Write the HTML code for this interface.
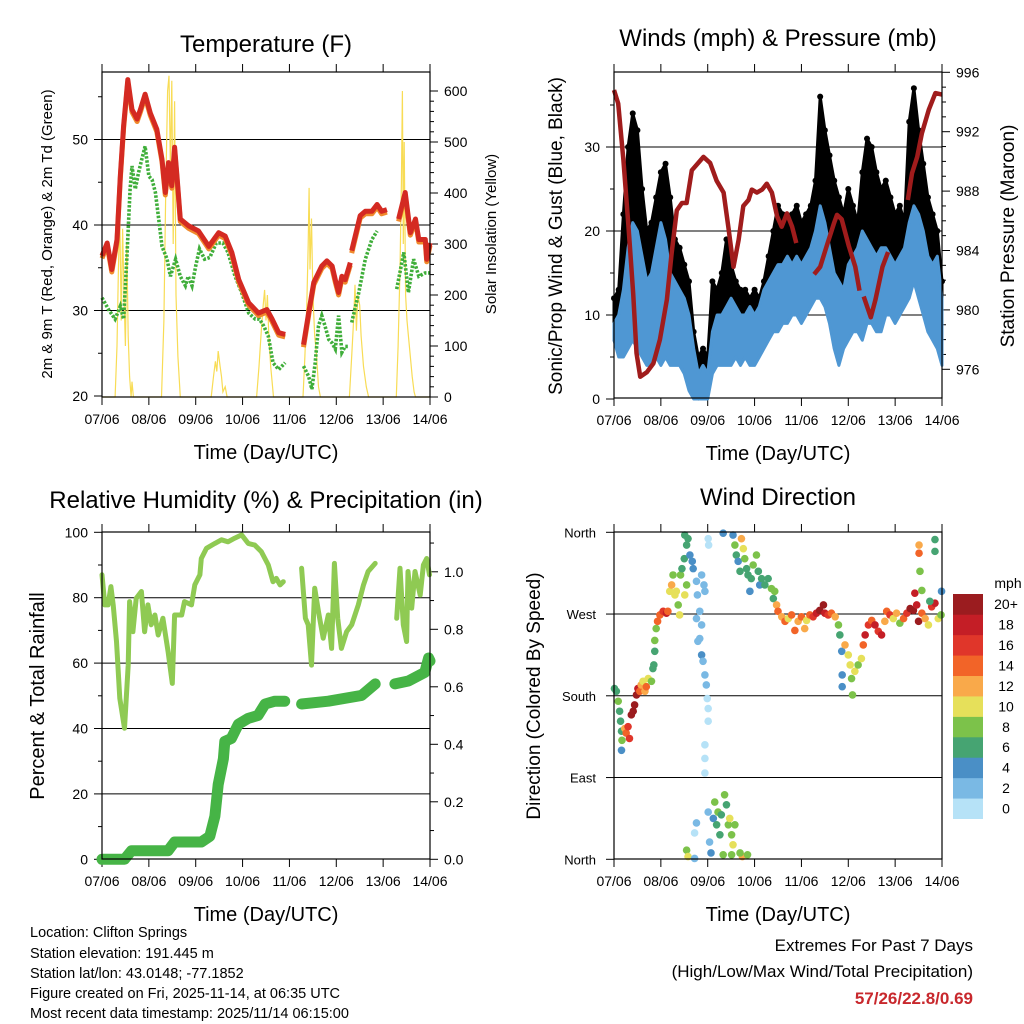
<!DOCTYPE html>
<html><head><meta charset="utf-8"><title>Station Meteogram</title>
<style>
html,body{margin:0;padding:0;background:#fff;}
svg{display:block;font-family:"Liberation Sans",Arial,sans-serif;}
</style></head>
<body>
<svg id="fig" width="1024" height="1024" viewBox="0 0 1024 1024" xmlns="http://www.w3.org/2000/svg"></svg>
<script>
// ---------- DATA ----------
const dayTicks = [7,8,9,10,11,12,13,14];
const dayTickLabels = ["07/06","08/06","09/06","10/06","11/06","12/06","13/06","14/06"];

// Temperature (F), 2m (red); null = gap
const tDays = [7.00,7.11,7.21,7.32,7.39,7.46,7.55,7.64,7.75,7.82,7.92,8.03,8.17,8.28,8.35,8.42,8.49,8.55,8.60,8.67,8.85,9.06,9.28,9.49,9.63,9.77,9.92,10.13,10.34,10.52,10.63,10.77,10.91,11.10,11.30,11.41,11.52,11.69,11.80,11.91,11.98,12.05,12.12,12.19,12.30,12.32,12.33,12.51,12.62,12.76,12.87,12.97,13.08,13.20,13.33,13.47,13.58,13.69,13.76,13.90,13.93,14.00];
const tVals = [36.4,37.9,34.8,38.3,45.7,51.6,57.0,53.5,52.4,53.5,55.3,53.1,51.2,47.7,43.8,47.3,44.6,49.1,45.7,40.7,39.9,39.3,37.5,39.1,38.7,36.8,33.6,30.9,29.7,30.1,29.0,27.4,27.2,null,26.0,29.7,33.3,35.2,35.8,35.2,33.6,32.1,34.0,33.6,35.6,null,37.0,41.1,41.6,41.6,42.4,41.6,41.8,null,40.7,43.8,39.1,40.7,38.3,38.3,36.0,37.9];
// Dew point (green)
const tdDays = [7.00,7.14,7.28,7.39,7.46,7.53,7.60,7.64,7.71,7.78,7.85,7.92,8.00,8.07,8.14,8.21,8.28,8.39,8.46,8.57,8.67,8.78,8.84,8.92,9.00,9.08,9.19,9.30,9.44,9.58,9.69,9.84,9.98,10.13,10.27,10.36,10.45,10.55,10.65,10.77,10.91,11.10,11.30,11.41,11.48,11.55,11.62,11.69,11.76,11.84,11.91,11.98,12.05,12.12,12.19,12.26,12.28,12.33,12.48,12.62,12.76,12.87,13.00,13.29,13.44,13.54,13.65,13.76,13.90,14.00];
const tdVals = [31.5,30.1,29.0,30.5,29.0,36.0,44.2,46.9,44.2,46.1,47.7,49.2,45.7,45.3,43.8,40.7,37.5,36.0,34.0,36.0,34.0,32.9,34.0,32.9,35.2,37.2,36.0,36.2,37.9,37.9,36.8,34.0,32.1,29.7,29.0,29.0,28.2,27.0,23.9,23.1,23.9,null,23.5,22.3,20.8,23.9,28.2,29.4,28.2,26.6,26.2,25.5,29.4,25.1,25.8,25.8,null,28.6,32.1,36.0,38.3,39.3,null,32.5,36.8,32.1,36.0,34.0,34.4,34.4];
// Solar insolation (yellow)
const solarDays = [7.00,7.28,7.32,7.35,7.38,7.41,7.44,7.47,7.50,7.53,7.56,7.59,7.62,7.64,7.67,8.27,8.32,8.36,8.40,8.43,8.46,8.49,8.52,8.55,8.58,8.62,8.67,9.33,9.38,9.42,9.45,9.48,9.52,9.55,9.58,9.63,9.67,10.30,10.35,10.40,10.44,10.47,10.50,10.53,10.56,10.60,10.66,11.29,11.33,11.37,11.40,11.42,11.44,11.47,11.50,11.54,11.58,11.62,11.66,12.28,12.33,12.37,12.40,12.43,12.46,12.50,12.53,12.58,12.64,12.69,13.28,13.32,13.36,13.39,13.41,13.43,13.45,13.48,13.51,13.54,13.58,13.62,13.66,13.69,14.00];
const solarVals = [0,0,100,250,360,150,330,200,100,300,120,40,0,30,0,0,150,400,600,630,450,620,300,580,200,80,0,0,40,70,50,90,60,40,10,20,0,0,60,130,180,210,150,200,120,60,0,0,80,180,300,410,250,350,200,120,80,20,0,0,80,150,220,130,200,180,120,60,20,0,0,100,250,420,600,300,500,200,150,120,80,40,10,0,0];

// Winds (mph) – sampled every 0.1 day
const windDays = [7.0,7.1,7.2,7.3,7.4,7.5,7.6,7.7,7.8,7.9,8.0,8.1,8.2,8.3,8.4,8.5,8.6,8.7,8.8,8.9,9.0,9.1,9.2,9.3,9.4,9.5,9.6,9.7,9.8,9.9,10.0,10.1,10.2,10.3,10.4,10.5,10.6,10.7,10.8,10.9,11.0,11.1,11.2,11.3,11.4,11.5,11.6,11.7,11.8,11.9,12.0,12.1,12.2,12.3,12.4,12.5,12.6,12.7,12.8,12.9,13.0,13.1,13.2,13.3,13.4,13.5,13.6,13.7,13.8,13.9,14.0];
const gustHi = [12,13,22,30,34,32,25,20,21,24,27,28,24,19,18,16,14,8,5,6,5,14,13,15,19,16,14,13,13,12,13,12,14,17,20,23,22,21,22,23,21,22,23,26,36,32,29,26,24,22,25,23,21,27,31,30,27,25,26,24,22,23,21,33,37,32,28,24,22,20,14];
const gustLo = [7,7,8,10,11,12,12,11,10,10,10,9,8,7,6,5,3,1,0,1,2,6,7,8,9,9,8,7,7,7,7,8,9,10,11,12,13,14,14,13,12,13,14,15,16,16,15,14,12,10,10,11,12,12,14,15,15,14,13,12,12,12,13,15,17,16,15,13,12,10,8];
const sonicHi = [9,10,13,18,21,20,17,14,15,18,21,19,15,14,13,12,10,6,3,4,3,8,10,10,11,12,11,10,10,11,10,11,13,14,15,16,16,17,16,17,16,17,18,20,23,21,18,15,14,13,16,17,18,20,19,18,17,18,18,17,16,17,18,21,23,22,20,17,16,17,12];
const sonicLo = [7,5,5,6,7,6,5,4,4,5,4,5,4,4,4,3,1,0,0,0,0,3,4,4,4,4,5,4,5,4,4,5,6,7,8,8,9,9,10,10,9,10,11,12,12,11,9,6,4,6,7,8,8,7,9,9,8,8,10,10,9,10,11,12,14,12,10,8,7,6,4];
// Station pressure (mb)
const presDays = [7.00,7.09,7.20,7.31,7.41,7.48,7.56,7.70,7.84,7.98,8.13,8.23,8.34,8.45,8.55,8.66,8.80,8.91,9.05,9.19,9.34,9.44,9.55,9.66,9.76,9.87,9.94,10.05,10.16,10.26,10.37,10.48,10.58,10.69,10.80,10.89,11.00,11.27,11.40,11.54,11.69,11.76,11.86,12.01,12.15,12.24,12.28,12.33,12.48,12.58,12.73,12.85,13.00,13.27,13.36,13.47,13.57,13.72,13.86,14.00];
const presVals = [994.8,993.9,990.1,985.6,981.1,977.1,975.5,975.8,976.4,978.0,980.7,983.8,986.7,987.2,987.2,989.4,989.9,990.3,989.9,988.7,987.9,985.6,982.9,984.7,987.0,987.4,988.1,987.9,988.1,988.5,987.9,986.3,985.6,986.5,985.6,984.5,null,982.4,982.9,984.3,985.8,986.4,986.1,984.3,982.9,981.3,null,980.9,979.5,980.7,982.9,983.9,null,987.4,989.2,990.3,991.9,993.5,994.6,994.5];

// Relative humidity (%)
const rhDays = [7.00,7.06,7.13,7.19,7.24,7.31,7.38,7.48,7.56,7.59,7.66,7.73,7.84,7.91,7.98,8.05,8.13,8.20,8.30,8.41,8.50,8.55,8.70,8.76,8.91,8.98,9.09,9.12,9.23,9.41,9.55,9.69,9.83,9.98,10.12,10.26,10.40,10.55,10.65,10.72,10.80,10.87,11.00,11.26,11.34,11.40,11.47,11.54,11.62,11.72,11.83,11.90,11.96,12.03,12.11,12.22,12.33,12.47,12.58,12.68,12.83,13.00,13.29,13.36,13.43,13.50,13.53,13.61,13.68,13.79,13.86,13.93,13.99];
const rhVals = [87.0,77.8,77.8,83.4,77.8,66.6,49.2,40.1,59.4,78.8,69.6,79.8,81.9,69.6,77.8,71.7,74.7,68.6,73.7,63.5,53.8,74.7,74.7,78.8,77.8,83.9,87.0,92.0,95.1,96.6,97.7,97.1,98.2,99.2,96.6,96.1,94.1,90.0,84.9,85.9,83.9,84.9,null,89.0,73.7,71.7,59.4,82.9,75.7,67.6,74.7,64.5,90.5,73.7,64.5,69.6,71.7,77.8,83.9,88.0,90.5,null,73.7,89.0,71.7,66.6,88.0,76.8,88.0,80.8,90.0,92.0,87.0];
// Total precipitation (in)
const prDays = [7.00,7.48,7.63,8.41,8.55,9.12,9.30,9.41,9.48,9.59,9.62,9.76,9.91,10.12,10.33,10.48,10.69,10.90,11.05,11.26,11.83,12.54,12.83,13.05,13.25,13.54,13.89,13.97,14.00];
const prVals = [0.00,0.00,0.03,0.03,0.06,0.06,0.08,0.15,0.26,0.35,0.41,0.42,0.47,0.49,0.50,0.54,0.55,0.55,null,0.54,0.55,0.57,0.61,null,0.61,0.62,0.65,0.70,0.69];

// Wind direction (deg) coloured by speed (mph)
const dirDays = [7.01,7.05,7.09,7.12,7.14,7.16,7.17,7.16,7.23,7.26,7.30,7.33,7.37,7.41,7.44,7.48,7.51,7.55,7.58,7.62,7.66,7.69,7.73,7.80,7.83,7.85,7.87,7.87,7.90,7.93,7.98,8.05,8.12,8.15,8.19,8.23,8.26,8.30,8.33,8.37,8.40,8.42,8.45,8.50,8.55,8.51,8.58,8.62,8.67,8.69,8.55,8.51,
8.76,8.78,8.83,8.87,8.83,8.87,8.90,8.94,8.92,9.01,9.02,8.94,8.97,8.99,9.01,9.01,8.94,8.94,8.94,8.76,8.79,8.87,
8.55,8.58,8.72,8.76,8.72,9.01,9.04,9.07,9.12,9.15,9.19,9.22,9.26,9.29,9.33,9.36,9.40,9.44,9.47,9.51,9.54,9.58,9.51,9.74,9.85,9.69,
9.33,9.54,9.58,9.61,9.65,9.69,9.72,9.76,9.79,9.83,9.86,9.90,9.93,9.97,10.04,10.08,10.11,10.15,10.22,10.29,10.36,10.40,10.43,
10.47,10.50,10.58,10.65,10.72,10.79,10.86,10.93,11.00,11.07,11.11,11.18,11.25,11.32,11.39,11.47,11.50,11.57,11.64,11.72,11.79,11.82,11.86,11.87,11.87,11.93,12.00,12.04,12.07,12.09,12.14,12.21,12.28,12.32,12.36,12.43,12.50,12.57,12.64,12.71,12.78,12.82,12.89,12.96,13.03,13.10,13.18,13.25,13.32,13.39,13.46,13.50,13.57,13.64,13.71,13.78,13.85,13.92,13.98,13.42,13.53,13.57,13.51,13.51,13.85,13.85,13.74,13.99];
const dirDeg = [188,185,174,163,152,141,131,120,144,139,146,133,159,163,170,181,188,185,192,196,185,190,199,196,210,214,229,241,254,262,269,273,271,273,295,302,313,291,295,280,269,313,320,331,346,357,353,335,328,320,302,291,
306,291,273,258,243,225,218,295,302,353,346,203,192,177,166,152,126,111,95,265,240,313,
10,3,1,40,29,52,19,7,45,63,38,52,27,49,5,71,60,38,45,27,16,38,5,3,5,7,
359,357,346,335,328,317,353,342,331,320,313,295,309,324,335,317,302,309,302,309,298,287,295,
280,273,267,262,265,269,252,262,267,254,263,269,267,271,274,280,271,269,271,267,258,247,229,203,190,236,225,214,199,181,207,214,221,236,247,258,263,258,251,247,262,273,269,265,271,260,265,271,276,274,280,262,271,265,258,278,282,265,269,293,317,296,346,337,352,339,284,295];
const dirSpd = [6,6,8,6,6,6,8,4,12,14,16,16,20,20,20,20,18,14,12,10,12,14,10,8,6,6,6,8,8,14,14,16,18,14,10,12,8,10,10,8,10,8,6,6,6,6,6,4,4,4,8,10,
2,2,2,2,2,4,2,2,2,0,0,2,2,0,0,0,0,0,0,2,2,2,
8,10,2,2,0,2,2,4,4,8,6,8,6,6,8,8,6,8,10,8,10,8,8,12,8,8,
4,4,8,6,4,6,12,10,8,6,6,4,6,8,8,6,4,6,6,6,8,6,8,
12,14,12,14,10,14,14,12,14,12,10,14,16,18,20,20,18,16,14,12,8,6,4,4,4,12,10,10,8,8,10,8,10,14,18,16,14,18,16,18,12,14,16,10,12,8,14,16,20,20,18,20,14,12,10,16,18,10,8,18,8,8,12,14,6,6,6,4];

const spdLabels = ["0","2","4","6","8","10","12","14","16","18","20+"];
const spdColors = ["#b6e2f7","#7ab9e4","#4a8fc6","#46a472","#7cc24a","#e6e05a","#f9a94a","#f26428","#e0362a","#c41e26","#9b1c1f"];

// ---------- HELPERS ----------
const NS = "http://www.w3.org/2000/svg";
const svg = document.getElementById("fig");
function mk(tag, attrs, parent) {
  const e = document.createElementNS(NS, tag);
  for (const k in attrs) e.setAttribute(k, attrs[k]);
  (parent || svg).appendChild(e);
  return e;
}
function txt(str, x, y, size, anchor, parent, extra) {
  const t = mk("text", Object.assign({x:x, y:y, "font-size":size, "text-anchor":anchor||"middle", fill:"#000"}, extra||{}), parent);
  t.textContent = str;
  return t;
}
function pathD(xs, ys, xf, yf) {
  let d = "", pen = false;
  for (let i = 0; i < xs.length; i++) {
    if (ys[i] === null || ys[i] === undefined) { pen = false; continue; }
    d += (pen ? "L" : "M") + xf(xs[i]).toFixed(1) + "," + yf(ys[i]).toFixed(1);
    pen = true;
  }
  return d;
}
function bandD(xs, hi, lo, xf, yf) {
  let d = "M" + xf(xs[0]).toFixed(1) + "," + yf(hi[0]).toFixed(1);
  for (let i = 1; i < xs.length; i++) d += "L" + xf(xs[i]).toFixed(1) + "," + yf(hi[i]).toFixed(1);
  for (let i = xs.length - 1; i >= 0; i--) d += "L" + xf(xs[i]).toFixed(1) + "," + yf(lo[i]).toFixed(1);
  return d + "Z";
}
function xAxis(x0, x1, yBot, yTop, g) {
  const xf = d => x0 + (d - 7) * (x1 - x0) / 7;
  for (let i = 0; i < dayTicks.length; i++) {
    const x = xf(dayTicks[i]);
    const tk = mk("line", {x1:x, x2:x, y1:yBot, y2:yBot+8, stroke:"#000", "stroke-width":1}, g);
    
    
    const tt = mk("line", {x1:x, x2:x, y1:yTop, y2:yTop-8, stroke:"#000", "stroke-width":1}, g);
    
    
    const lb = txt(dayTickLabels[i], x, yBot + 27, 14, "middle", g);
    
    
  }
  const at = txt("Time (Day/UTC)", (x0 + x1) / 2, yBot + 62, 20, "middle", g);
  
  
  return xf;
}
function frame(x0, y0, x1, y1, g) {
  const r = mk("rect", {x:x0, y:y0, width:x1-x0, height:y1-y0, fill:"none", stroke:"#000", "stroke-width":1.2}, g);
  
  
}
function hgrid(x0, x1, y, g) {
  const l = mk("line", {x1:x0, x2:x1, y1:y, y2:y, stroke:"#000", "stroke-width":1}, g);
  
  
}
function yTick(x, y, dir, len, g) {
  const l = mk("line", {x1:x, x2:x+dir*len, y1:y, y2:y, stroke:"#000", "stroke-width":1}, g);
  
  
}
function rotTitle(str, x, y, size, g) {
  const t = txt(str, x, y, size, "middle", g, {transform:"rotate(-90 " + x + " " + y + ")"});
  return t;
}

// ---------- PANEL 1: TEMPERATURE ----------
(function(){
  const g = mk("g", {});
  
  
  const X0 = 102, X1 = 430, Y0 = 72, Y1 = 397;
  const yT = v => 396 - (v - 20) * 8.55;
  const yS = v => 397 - v * 0.51;
  const ttl = txt("Temperature (F)", 266, 52, 24, "middle", g);
  
  
  [30,40,50].forEach(v => hgrid(X0, X1, yT(v), g));
  const xf = xAxis(X0, X1, Y1, Y0, g);
  [20,30,40,50].forEach(v => {
    yTick(X0, yT(v), -1, 8, g);
    const l = txt(String(v), X0 - 14, yT(v) + 5, 14, "end", g);
    
    
  });
  [25,35,45,55].forEach(v => yTick(X0, yT(v), -1, 4, g));
  for (let v = 0; v <= 600; v += 20) yTick(X1, yS(v), 1, v % 100 === 0 ? 8 : 4, g);
  [0,100,200,300,400,500,600].forEach(v => {
    const l = txt(String(v), X1 + 14, yS(v) + 5, 14, "start", g);
    
    
  });
  const sl = mk("path", {d:pathD(solarDays, solarVals, xf, yS), fill:"none", stroke:"#f8dc55", "stroke-width":1.2}, g);
  
  
  const tdl = mk("path", {d:pathD(tdDays, tdVals, xf, yT), fill:"none", stroke:"#3fae3a", "stroke-width":3.6, "stroke-dasharray":"2.5 1.6"}, g);
  
  
  const t9 = mk("path", {d:pathD(tDays, tVals, xf, v => yT(v) + 2.5), fill:"none", stroke:"#f08a2c", "stroke-width":5, "stroke-linejoin":"round"}, g);
  
  
  const t2 = mk("path", {d:pathD(tDays, tVals, xf, yT), fill:"none", stroke:"#d42a22", "stroke-width":5, "stroke-linejoin":"round"}, g);
  
  
  frame(X0, Y0, X1, Y1, g);
  const yl = rotTitle("2m & 9m T (Red, Orange) & 2m Td (Green)", 52, 234, 15, g);
  
  
  const yr = rotTitle("Solar Insolation (Yellow)", 496, 234, 15, g);
  
  
})();

// ---------- PANEL 2: WINDS & PRESSURE ----------
(function(){
  const g = mk("g", {});
  
  
  const X0 = 614, X1 = 942, Y0 = 72, Y1 = 398;
  const yW = v => 399 - v * 8.4;
  const yP = v => 369.3 - (v - 976) * 14.85;
  const ttl = txt("Winds (mph) & Pressure (mb)", 778, 46, 24, "middle", g);
  
  
  [10,20,30].forEach(v => hgrid(X0, X1, yW(v), g));
  const xf = xAxis(X0, X1, Y1, Y0, g);
  [0,10,20,30].forEach(v => {
    yTick(X0, yW(v), -1, 8, g);
    const l = txt(String(v), X0 - 14, yW(v) + 5, 14, "end", g);
    
    
  });
  [5,15,25,35].forEach(v => yTick(X0, yW(v), -1, 4, g));
  for (let v = 976; v <= 996; v++) yTick(X1, yP(v), 1, v % 4 === 0 ? 8 : 4, g);
  [976,980,984,988,992,996].forEach(v => {
    const l = txt(String(v), X1 + 14, yP(v) + 5, 14, "start", g);
    
    
  });
  const gb = mk("path", {d:bandD(windDays, gustHi, gustLo, xf, yW), fill:"#000", stroke:"#000", "stroke-width":3, "stroke-linejoin":"round"}, g);
  
  
  for (let i = 0; i < windDays.length; i++) {
    const c = mk("circle", {cx:xf(windDays[i]), cy:yW(gustHi[i]), r:3, fill:"#000"}, g);
    
    
  }
  const sb = mk("path", {d:bandD(windDays, sonicHi, sonicLo, xf, yW), fill:"#4f97d3", stroke:"#4f97d3", "stroke-width":3, "stroke-linejoin":"round"}, g);
  
  
  const pl = mk("path", {d:pathD(presDays, presVals, xf, yP), fill:"none", stroke:"#a01c1c", "stroke-width":4.5, "stroke-linejoin":"round"}, g);
  
  
  frame(X0, Y0, X1, Y1, g);
  const yl = rotTitle("Sonic/Prop Wind & Gust (Blue, Black)", 562, 236, 19, g);
  
  
  const yr = rotTitle("Station Pressure (Maroon)", 1014, 236, 19, g);
  
  
})();

// ---------- PANEL 3: RH & PRECIP ----------
(function(){
  const g = mk("g", {});
  
  
  const X0 = 102, X1 = 430, Y0 = 532, Y1 = 859;
  const yR = v => 859.3 - v * 3.27;
  const yQ = v => 859.3 - v * 287.5;
  const ttl = txt("Relative Humidity (%) & Precipitation (in)", 266, 508, 24, "middle", g);
  
  
  [20,40,60,80].forEach(v => hgrid(X0, X1, yR(v), g));
  const xf = xAxis(X0, X1, Y1, Y0, g);
  [0,20,40,60,80,100].forEach(v => {
    yTick(X0, yR(v), -1, 8, g);
    const l = txt(String(v), X0 - 14, yR(v) + 5, 14, "end", g);
    
    
  });
  [10,30,50,70,90].forEach(v => yTick(X0, yR(v), -1, 4, g));
  for (let k = 0; k <= 11; k++) { const v = k * 0.1; yTick(X1, yQ(v), 1, k % 2 === 0 ? 8 : 4, g); }
  ["0.0","0.2","0.4","0.6","0.8","1.0"].forEach(s => {
    const v = parseFloat(s);
    const l = txt(s, X1 + 14, yQ(v) + 5, 14, "start", g);
    
    
  });
  const rl = mk("path", {d:pathD(rhDays, rhVals, xf, yR), fill:"none", stroke:"#8fca53", "stroke-width":5, "stroke-linejoin":"round", "stroke-linecap":"round"}, g);
  
  
  const ql = mk("path", {d:pathD(prDays, prVals, xf, yQ), fill:"none", stroke:"#46b446", "stroke-width":11, "stroke-linejoin":"round", "stroke-linecap":"round"}, g);
  
  
  frame(X0, Y0, X1, Y1, g);
  const yl = rotTitle("Percent & Total Rainfall", 44, 696, 20, g);
  
  
})();

// ---------- PANEL 4: WIND DIRECTION ----------
(function(){
  const g = mk("g", {});
  
  
  const X0 = 614, X1 = 942, Y0 = 532, Y1 = 859;
  const yD = v => 859.3 - v * (327 / 360);
  const ttl = txt("Wind Direction", 778, 505, 24, "middle", g);
  
  
  [90,180,270].forEach(v => hgrid(X0, X1, yD(v), g));
  const xf = xAxis(X0, X1, Y1, Y0, g);
  const dirTicks = [0,90,180,270,360];
  const dirLabels = ["North","East","South","West","North"];
  dirTicks.forEach((v, i) => {
    yTick(X0, yD(v), -1, 8, g);
    const l = txt(dirLabels[i], X0 - 18, yD(v) + 5, 13, "end", g);
    
    
  });
  const binOf = s => Math.min(10, Math.max(0, Math.round(s / 2)));
  for (let i = 0; i < dirDays.length; i++) {
    const c = mk("circle", {cx:xf(dirDays[i]), cy:yD(dirDeg[i]), r:3.8, fill:spdColors[binOf(dirSpd[i])]}, g);
    
    
  }
  frame(X0, Y0, X1, Y1, g);
  const yl = rotTitle("Direction (Colored By Speed)", 540, 696, 19, g);
  
  
  // colour bar
  const cb = mk("g", {}, g);
  
  
  const u = txt("mph", 1008, 588, 14, "middle", cb);
  
  
  const bh = 224.7 / spdColors.length;
  for (let k = 0; k < spdColors.length; k++) {
    const yTop = 818.7 - (k + 1) * bh;
    const r = mk("rect", {x:953, y:yTop, width:30, height:bh + 0.3, fill:spdColors[k]}, cb);
    
    
    const l = txt(spdLabels[k], 1006, yTop + bh / 2 + 5, 14, "middle", cb);
    
    
  }
})();

// ---------- FOOTER ----------
(function(){
  const g = mk("g", {});
  
  
  const lines = ["Location: Clifton Springs","Station elevation: 191.445 m","Station lat/lon: 43.0148; -77.1852","Figure created on Fri, 2025-11-14, at 06:35 UTC","Most recent data timestamp: 2025/11/14 06:15:00"];
  const ys = [937,958,978,998,1018];
  lines.forEach((s, i) => {
    const t = txt(s, 30, ys[i], 14.5, "start", g);
    
    
  });
  const e = mk("g", {});
  
  
  const a = txt("Extremes For Past 7 Days", 973, 951, 17, "end", e);
  
  
  const b = txt("(High/Low/Max Wind/Total Precipitation)", 973, 977, 17, "end", e);
  
  
  const c = txt("57/26/22.8/0.69", 973, 1004, 17, "end", e, {fill:"#c8282d", "font-weight":"bold"});
  
  
})();
</script>
</body></html>
